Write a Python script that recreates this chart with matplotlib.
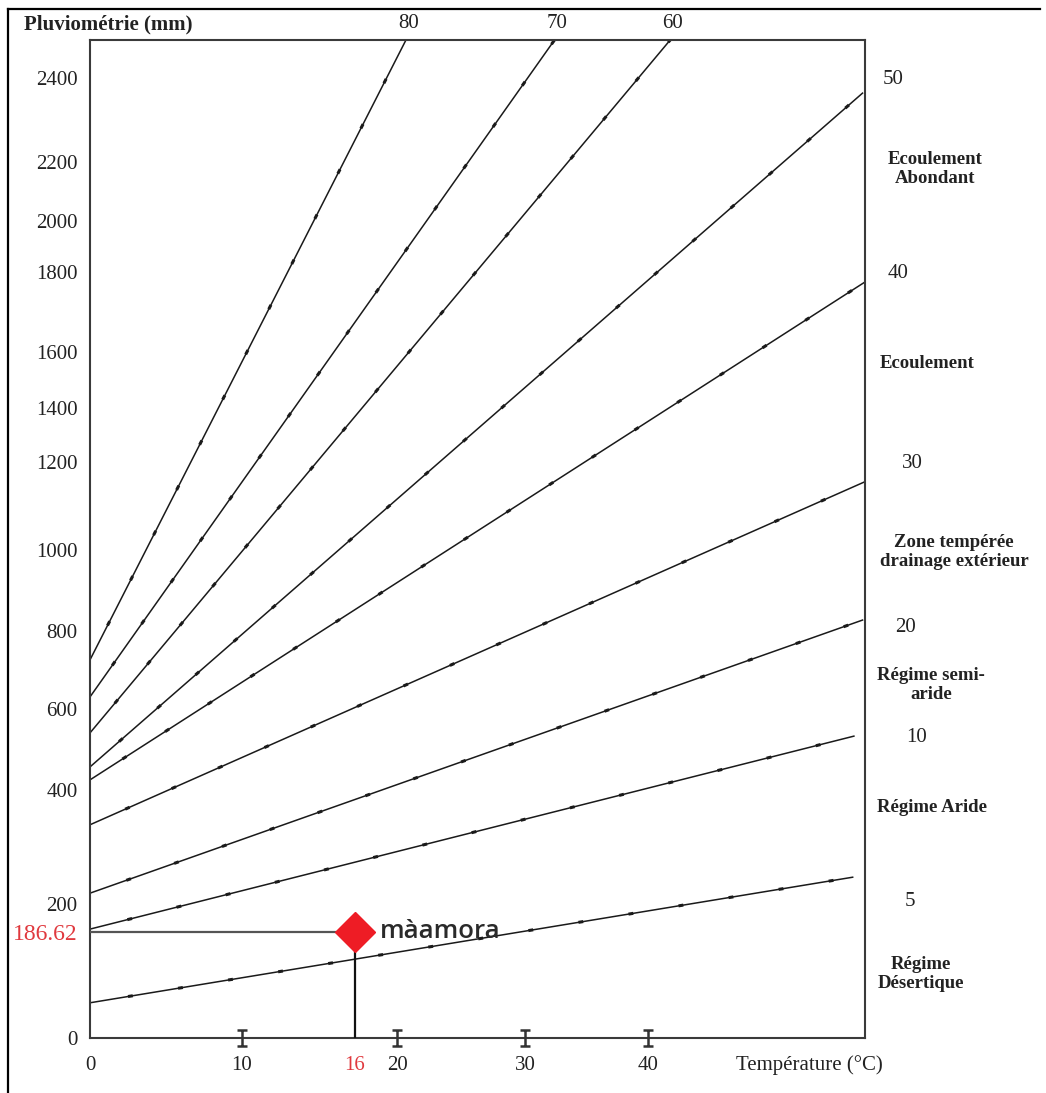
import numpy as np
import matplotlib.pyplot as plt
from matplotlib.path import Path
from matplotlib.lines import Line2D

W, H = 1046, 1093

# temperature axis (degC): labelled values and their distance (px) from the left spine
X_TICKS = [0, 10, 16, 20, 30, 40]
X_TICK_PX = [0, 152, 265, 307, 435, 558]
X_MAX, X_MAX_PX = 57.6, 775

# rainfall axis (mm): labelled values and their height (px) above the bottom spine
Y_TICKS = [0, 186.62, 200, 400, 600, 800, 1000, 1200, 1400, 1600, 1800, 2000, 2200, 2400]
Y_TICK_PX = [0, 106, 134, 248, 329, 407, 488, 576, 630, 686, 766, 817, 876, 960]
Y_MAX, Y_MAX_PX = 2490, 998

# aridity index lines, start and end point of each
INDEX = [80, 70, 60, 50, 40, 30, 20, 10, 5]
T_START = [0, 0, 0, 0, 0, 0, 0, 0, 0]
P_START = [726, 631, 541, 457, 425, 339, 219, 188, 62]
T_END = [20.7, 32.4, 41.8, 57.4, 57.6, 57.5, 57.4, 56.7, 56.6]
P_END = [2490, 2490, 2490, 2364, 1775, 1154, 827, 533, 247]

# station
STATION = "màamora"
STATION_T = 16
STATION_P = 186.62

T_MARKS = [10, 20, 30, 40]

# labels beside the plot
RIGHT_NUMS = ["50", "40", "30", "20", "10", "5"]
RIGHT_NUMS_XY = [(893, 80), (898, 273), (912, 463), (905, 628), (917, 738), (910, 902)]
ZONES = ["Ecoulement\nAbondant", "Ecoulement", "Zone tempérée\ndrainage extérieur",
         "Régime semi-\naride", "Régime Aride", "Régime\nDésertique"]
ZONES_XY = [(935, 169), (927, 363), (954, 552), (931, 685), (932, 808), (921, 974)]

RED = "#e0393e"
INK = "#222222"
SERIF = "Liberation Serif"


def fig_xy(px, py):
    return px / W, 1 - py / H


def interp_scale(vals, pos):
    vals = np.asarray(vals, float)
    pos = np.asarray(pos, float)
    return (lambda v: np.interp(v, vals, pos), lambda p: np.interp(p, pos, vals))


fig = plt.figure(figsize=(W / 100, H / 100), dpi=100)
fig.patch.set_facecolor("white")
ax = fig.add_axes([90 / W, 1 - 1038 / H, 775 / W, 998 / H])

ax.set_xscale("function", functions=interp_scale(X_TICKS + [X_MAX], X_TICK_PX + [X_MAX_PX]))
ax.set_yscale("function", functions=interp_scale(Y_TICKS + [Y_MAX], Y_TICK_PX + [Y_MAX_PX]))
ax.set_xlim(0, X_MAX)
ax.set_ylim(0, Y_MAX)

# index lines: thin solid stroke plus small blobs along it
for idx, t0, p0, t1, p1 in zip(INDEX, T_START, P_START, T_END, P_END):
    ax.plot([t0, t1], [p0, p1], color="#1a1a1a", lw=1.1, zorder=2)
    ax.plot([t0, t1], [p0, p1], color="#1a1a1a", lw=2.2,
            linestyle=(4, (1.6, 15)), zorder=2)
    if p1 >= Y_MAX:
        ax.annotate(str(idx), (t1, p1), xytext=(2, 12), textcoords="offset points",
                    ha="center", va="center", fontsize=15, family=SERIF,
                    color=INK, annotation_clip=False)

# station reading
ax.plot([0, STATION_T], [STATION_P, STATION_P], color="#555555", lw=1.6, zorder=3)
ax.plot([STATION_T, STATION_T], [0, STATION_P], color="#111111", lw=1.6, zorder=3)
ax.plot([STATION_T], [STATION_P], marker="D", ms=20, color="#ee1c25",
        mec="#ee1c25", zorder=4)
ax.annotate(STATION, (STATION_T, STATION_P), xytext=(18, 0), textcoords="offset points",
            ha="left", va="center", fontsize=18.5, family="Open Sans",
            fontweight="semibold", color="#2a2a2a", zorder=5)

# I-beam marks on the temperature axis
ibeam = Path([(-0.28, -0.5), (0.28, -0.5), (0, -0.5), (0, 0.5), (-0.28, 0.5), (0.28, 0.5)],
             [Path.MOVETO, Path.LINETO, Path.MOVETO, Path.LINETO, Path.MOVETO, Path.LINETO])
ax.plot(T_MARKS, [0] * len(T_MARKS), ls="none", marker=ibeam, ms=12,
        mec="#333333", mew=1.8, clip_on=False, zorder=5)

# ticks and labels
ax.set_xticks(X_TICKS, [str(v) for v in X_TICKS])
ax.set_yticks(Y_TICKS, [f"{v:g}" for v in Y_TICKS])
ax.tick_params(axis="x", length=0, pad=13, labelsize=15, labelcolor=INK)
ax.tick_params(axis="y", length=0, pad=9, labelsize=15, labelcolor=INK)
for lab in ax.get_xticklabels() + ax.get_yticklabels():
    lab.set_family(SERIF)
    if lab.get_text() in (str(STATION_T), f"{STATION_P:g}"):
        lab.set_color(RED)
for lab in ax.get_yticklabels():
    if lab.get_text() == f"{STATION_P:g}":
        lab.set_fontsize(17)

for sp in ax.spines.values():
    sp.set_color("#3a3a3a")
    sp.set_linewidth(1.5)

fig.text(*fig_xy(24, 24), "Pluviométrie (mm)", ha="left", va="center",
         fontsize=15, fontweight="bold", family=SERIF, color=INK)
fig.text(*fig_xy(809, 1065), "Température (°C)", ha="center", va="center",
         fontsize=15, family=SERIF, color=INK)

for txt, (px, py) in zip(RIGHT_NUMS, RIGHT_NUMS_XY):
    fig.text(*fig_xy(px, py), txt, ha="center", va="center", fontsize=15,
             family=SERIF, color=INK)
for txt, (px, py) in zip(ZONES, ZONES_XY):
    fig.text(*fig_xy(px, py), txt, ha="center", va="center", fontsize=13.5,
             fontweight="bold", family=SERIF, color=INK, linespacing=1.2)

# outer border
fig.add_artist(Line2D([8 / W, 8 / W], [0, 1 - 9 / H], transform=fig.transFigure,
                      color="black", lw=1.6))
fig.add_artist(Line2D([8 / W, 1040 / W], [1 - 9 / H, 1 - 9 / H], transform=fig.transFigure,
                      color="black", lw=1.6))

fig.savefig("out.png", dpi=100)
